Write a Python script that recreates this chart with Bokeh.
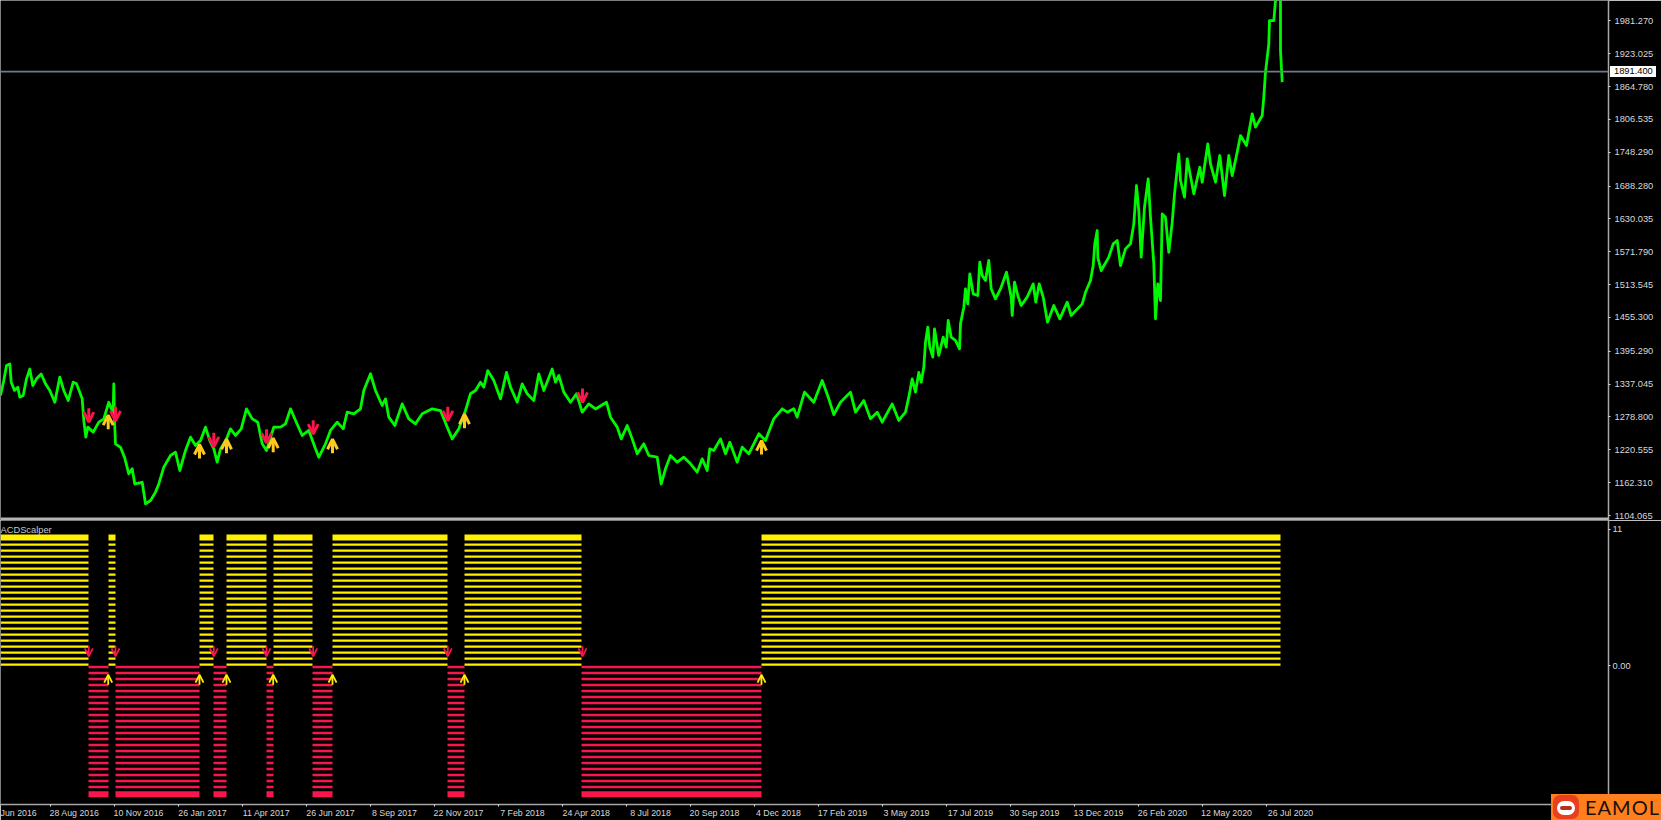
from bokeh.embed import file_html
from bokeh.resources import INLINE
from bokeh.plotting import figure
from bokeh.layouts import column
from bokeh.models import (Range1d, FixedTicker, NumeralTickFormatter, Span, Label, Arrow, OpenHead,
                          ColumnDataSource, Div)

# price series: chart position (bars) and price
bars = [0,3.3,6,9.3,10.7,14,17.3,19.3,22.7,26,29.3,32.3,36,40.7,45,49.3,54.3,59.3,63.3,67.7,72.7,76,81.7,83.3,85.3,87.3,92.7,98.3,103.3,108.3,111.7,112.7,113.3,114,115,120,124,128.3,131.7,134.3,141.7,145,150,155,158.3,163.3,170,175,179.3,185,190,195,200,205,209.3,213.3,216.7,220,226,230,235,240.7,246,251.7,257.3,261.7,266,273.3,280,285,290,295,301.7,308.3,315,318.3,325,330,336.7,342.7,346.7,353.3,360,363.3,370,375,381.7,385,388.3,394.3,401.7,408.3,415,421.7,431.7,440,446.7,451.7,458.3,465,470,475,480,483.3,487.3,493.3,
        500,506,510,516.7,521.7,526.7,533.3,538.3,543.3,551.7,555,558.3,563.3,570,576,581.7,588.3,595,606,610,616.7,620.7,626.7,631.7,636.7,643.3,648.3,656.7,660.7,665,670,676.7,683.3,690,696.7,701.7,706.7,709.3,713.3,720,725,729.3,736.7,741.7,748.3,758.3,765,773.3,781.7,786.7,793.3,796.7,804,813.3,821.7,828.3,833.3,840,850,855,863.3,870,876.7,881.7,891.7,898.3,905,
        908.3,911.7,915,918.3,920.7,923.3,925,927.3,929.3,932.3,934,938.3,942.7,945.7,947.7,950.7,955,959,960,963.3,965,967.3,969.3,972.7,977.3,979.3,981.7,985,988.3,990.7,995,1000,1006,1010.7,1011.7,1014,1017.3,1020.7,1026.7,1032.7,1035.3,1038.7,1042.7,1047,1053.3,1059.3,1066.7,1070.7,1081.7,1085,1090,1092.7,1094.3,1096.7,1097.3,1100.7,1108.3,1112.7,1116.7,1120,1125,1130,1133.3,1136,1138.3,1140.7,1144,1147.7,1150,1153.3,1155,1157.3,1160,1161.7,1165,1168.3,1171.7,1174,
        1178.3,1180,1184,1186.7,1193.3,1199.3,1201.7,1207.3,1210,1215,1219.3,1224,1228.3,1231.7,1236,1240,1246,1251.7,1255,1261.7,1263.3,1265,1268.3,1269,1273.3,1275,1280,1280,1281.7]
prices = [1317,1343.5,1370,1373,1340.6,1326,1331.7,1314,1317,1346.5,1364,1334.7,1346.5,1355,1337.6,1325.8,1305,1349.5,1325.8,1308,1340.6,1337.6,1311,1272.6,1243,1260.8,1252,1269.6,1275.5,1305,1290,1290,1337.6,1272.6,1231,1225,1207.5,1178,1187,1160,1163,1124.8,1130.7,1145.5,1160,1189.8,1210.5,1216.4,1183.9,1219.4,1243,1228.2,1237,1260.8,1237,1222.3,1198.7,1222.3,1240,1257.8,1246,1257.8,1293.3,1275.5,1269.6,1231.2,1219.4,1260.8,1260.8,1266.7,1293.3,1272.6,1246,1254.9,1222.3,1207.5,1231.2,1254.9,1269.6,1257.8,1287.4,1284.4,1293.3,1325.8,1355.4,1325.8,1299.2,1311,1278.5,1263.7,1302,1275.5,1266.7,1284.4,1293.3,1290.3,1260.8,1240,1257.8,1290.3,1320,1325.8,1340.6,1331.7,1361,1343.5,
          1311,1358,1331.7,1305,1337.6,1320,1308,1355.4,1325.8,1364,1340.6,1352.4,1322.9,1305,1320,1287.4,1302,1293,1305,1278.5,1260.8,1240,1263.7,1240,1213.5,1231.2,1210.5,1207.5,1160,1186.9,1210.5,1198.7,1207.5,1195.7,1181,1204.6,1183.9,1222.3,1219.4,1240,1213.5,1234,1198.7,1225.3,1213.5,1249,1237,1275.5,1293.3,1287.4,1293.3,1278.5,1322.9,1305,1343.5,1311,1283,1305,1322.9,1287.4,1308,1275.5,1287.4,1269.6,1302,1272.6,1287.4,
          1314,1346.5,1322.9,1358,1340.6,1367,1411.5,1438,1402.7,1385,1435,1388,1420.4,1402.7,1450,1420.4,1414.5,1399.7,1444,1473.6,1506,1479.6,1532.8,1497.3,1494.3,1553.5,1529.8,1521,1556.4,1506,1488.4,1506,1535.7,1491.4,1458.9,1518,1494.3,1476.6,1491.4,1515,1482.5,1515,1491.4,1447,1476.5,1452.9,1482.5,1458.8,1479.5,1500,1521,1547.5,1586,1609.6,1562,1538.6,1562.3,1586,1591.9,1547.5,1577,1586,1621.4,1689.4,1645,1562.3,1651,1701,1633,1550.5,1453,1515,1485.4,1639,1633,1571,1624,1674.6,
          1745.6,1698.3,1668.7,1736.7,1674.6,1722,1695.3,1763.3,1727.9,1695.3,1742.6,1671.7,1742.6,1707,1742.6,1778,1760.4,1816.6,1792.9,1813.6,1846,1890.5,1940.7,1982,1982,2017.6,2035,1929,1872.7]

# signal arrows on the price
sell_bars = [88.3,115,213.3,266,312.7,447.3,582]
sell_prices = [1282,1284.4,1238.3,1244.8,1260.8,1284.4,1317]
buy_bars = [107.7,199,226,272.7,332,464,761]
buy_prices = [1269.6,1217.6,1227,1228.8,1227,1271.4,1224.6]

# indicator histogram: bar spans and hatch levels
yellow_spans = [(0,88),(108,115),(199,213),(226,266),(273,312),(332,447),(464,581),(761,1280)]
red_spans = [(88,108),(115,199),(213,226),(266,273),(312,332),(447,464),(581,761)]
yellow_levels = [0.1,0.6,1.1,1.6,2.1,2.6,3.1,3.6,4.1,4.6,5.1,5.6,6.1,6.6,7.1,7.6,8.1,8.6,9.1,9.6,10.1]
red_levels = [-0.1,-0.6,-1.1,-1.6,-2.1,-2.6,-3.1,-3.6,-4.1,-4.6,-5.1,-5.6,-6.1,-6.6,-7.1,-7.6,-8.1,-8.6,-9.1,-9.6,-10.1]
yellow_top = 10.7
red_bottom = -10.7
ind_sell_level = 1.2
ind_buy_level = -1.15

price_ticks = [1981.27,1923.025,1864.78,1806.535,1748.29,1688.28,1630.035,1571.79,1513.545,1455.3,1395.29,1337.045,1278.8,1220.555,1162.31,1104.065]
current_price = 1891.4
date_ticks = [-7,50,114,178,242,306,370,434,498,562,626,690,754,818,882,946,1010,1074,1138,1202,1266]
date_labels = ["Jun 2016","28 Aug 2016","10 Nov 2016","26 Jan 2017","11 Apr 2017","26 Jun 2017","8 Sep 2017","22 Nov 2017","7 Feb 2018","24 Apr 2018","8 Jul 2018","20 Sep 2018","4 Dec 2018","17 Feb 2019","3 May 2019","17 Jul 2019","30 Sep 2019","13 Dec 2019","26 Feb 2020","12 May 2020","26 Jul 2020"]

BLACK = "#000000"; GREY = "#A8A8A8"; TXT = "#D8D8D8"; FONT = "Liberation Sans"
RED = "#F8164C"; YEL = "#FFF000"; ORANGE_YEL = "#FFC81E"
LABEL_SHIFT = 24
TOP_H = 520
PRICE_Y0, PRICE_Y1 = 1095.2, 2017.6

x_range = Range1d(0, 1608)

def base(height, **kw):
    p = figure(width=1661, height=height, x_range=x_range, output_backend="svg", toolbar_location=None,
               y_axis_location="right", background_fill_color=BLACK, border_fill_color=BLACK,
               outline_line_color=BLACK, outline_line_width=0, min_border_left=0, min_border_right=53, min_border_top=0,
               min_border_bottom=0, **kw)
    p.grid.visible = False
    ax = p.yaxis[0]
    ax.axis_line_color = GREY; ax.axis_line_width = 1.5
    ax.major_tick_line_color = TXT; ax.major_tick_out = 2; ax.major_tick_in = 0
    ax.minor_tick_out = 0; ax.minor_tick_in = 0
    ax.major_label_text_color = TXT; ax.major_label_text_font = FONT
    ax.major_label_text_font_size = "9.3px"
    return p

# ---- price panel ----
top = base(TOP_H, y_range=Range1d(PRICE_Y0, PRICE_Y1), x_axis_location=None)
top.yaxis[0].ticker = FixedTicker(ticks=price_ticks)
top.yaxis[0].formatter = NumeralTickFormatter(format="0.000")
top.yaxis[0].major_label_standoff = 4

top.add_layout(Span(location=current_price, dimension="width", line_color="#6F7A8C", line_width=1.6))
top.line(bars, prices, line_color="#00F800", line_width=2.8, line_join="round")

def arrows(fig, xs, ys, half, color, down, size, lw):
    d = -half if down else half
    src = ColumnDataSource(dict(x=xs, a=[v - d for v in ys], b=[v + d for v in ys]))
    fig.add_layout(Arrow(source=src, x_start="x", y_start="a", x_end="x", y_end="b",
                         line_color=color, line_width=lw,
                         end=OpenHead(size=size, line_color=color, line_width=lw)))

arrows(top, sell_bars, sell_prices, 12.4, RED, True, 10, 3)
arrows(top, buy_bars, buy_prices, 12.4, ORANGE_YEL, False, 10, 3)

top.add_layout(Span(location=1097.3, dimension="width", line_color="#B4B4B4", line_width=3.5))

# ---- indicator panel ----
bottom = base(300, y_range=Range1d(-11.56, 12.11))
bottom.min_border_bottom = 12
yax = bottom.yaxis[0]
yax.ticker = FixedTicker(ticks=[0, 11.4])
yax.major_label_overrides = {0: "0.00", 11.4: "11"}
yax.major_label_standoff = 2

def stripes(fig, spans, levels, color, lw):
    x0, x1, ys = [], [], []
    for a, b in spans:
        for lv in levels:
            x0.append(a); x1.append(b); ys.append(lv)
    fig.segment(x0, ys, x1, ys, line_color=color, line_width=lw, line_cap="butt")

stripes(bottom, yellow_spans, yellow_levels, YEL, 2.4)
stripes(bottom, yellow_spans, [yellow_top], YEL, 6)
stripes(bottom, red_spans, red_levels, RED, 2.4)
stripes(bottom, red_spans, [red_bottom], RED, 6)

arrows(bottom, sell_bars, [ind_sell_level] * len(sell_bars), 0.42, RED, True, 8, 1.8)
arrows(bottom, buy_bars, [ind_buy_level] * len(buy_bars), 0.42, YEL, False, 8, 1.8)

xax = bottom.xaxis[0]
centers = [t + LABEL_SHIFT for t in date_ticks]
xax.ticker = FixedTicker(ticks=centers, minor_ticks=date_ticks)
xax.major_label_overrides = dict(zip(centers, date_labels))
xax.axis_line_color = GREY; xax.axis_line_width = 1.5
xax.major_tick_out = 0; xax.major_tick_in = 0
xax.minor_tick_line_color = TXT; xax.minor_tick_out = 2; xax.minor_tick_in = 0
xax.major_label_standoff = 1
xax.major_label_text_color = TXT; xax.major_label_text_font = FONT
xax.major_label_text_font_size = "8.8px"

bottom.add_layout(Label(x=0, y=9, x_units="canvas", y_units="canvas", text="ACDScalper", text_color="#C8C8C8",
                        text_font=FONT, text_font_size="9.3px", text_baseline="middle"))

# ---- current price tag, placed from the same price scale ----
tag_y = (PRICE_Y1 - current_price) / (PRICE_Y1 - PRICE_Y0) * TOP_H
tag = Div(text="1891.400", width=46, height=11, margin=0,
          styles={"position": "absolute", "left": "1610px", "top": f"{tag_y - 5.5:.1f}px", "background": "#FFFFFF",
                  "color": "#000000", "font": f"9.3px/11px '{FONT}'", "padding-left": "4px", "box-sizing": "border-box"})

# ---- logo ----
logo_html = (
    "<div style='position:relative;width:110px;height:26px;background:#FF7F1E;overflow:hidden'>"
    "<div style='position:absolute;left:2px;top:1px;width:26px;height:24px;border-radius:7px;background:#E8401E'></div>"
    "<div style='position:absolute;left:6px;top:7px;width:18px;height:14px;border-radius:7px;background:#FFFFFF'></div>"
    "<div style='position:absolute;left:9px;top:12px;width:12px;height:4px;border-radius:2px;background:#B8301C'></div>"
    "<span style=\"position:absolute;left:34px;top:0px;font:20px/26px 'Lato';letter-spacing:1px;color:#1A1008\">EAMOL</span>"
    "</div>")
logo = Div(text=logo_html, width=110, height=26, margin=0,
           styles={"position": "absolute", "left": "1551px", "top": "794px"})

page = column(top, bottom, tag, logo, spacing=0)
open("out.html", "w").write(file_html(page, INLINE))
